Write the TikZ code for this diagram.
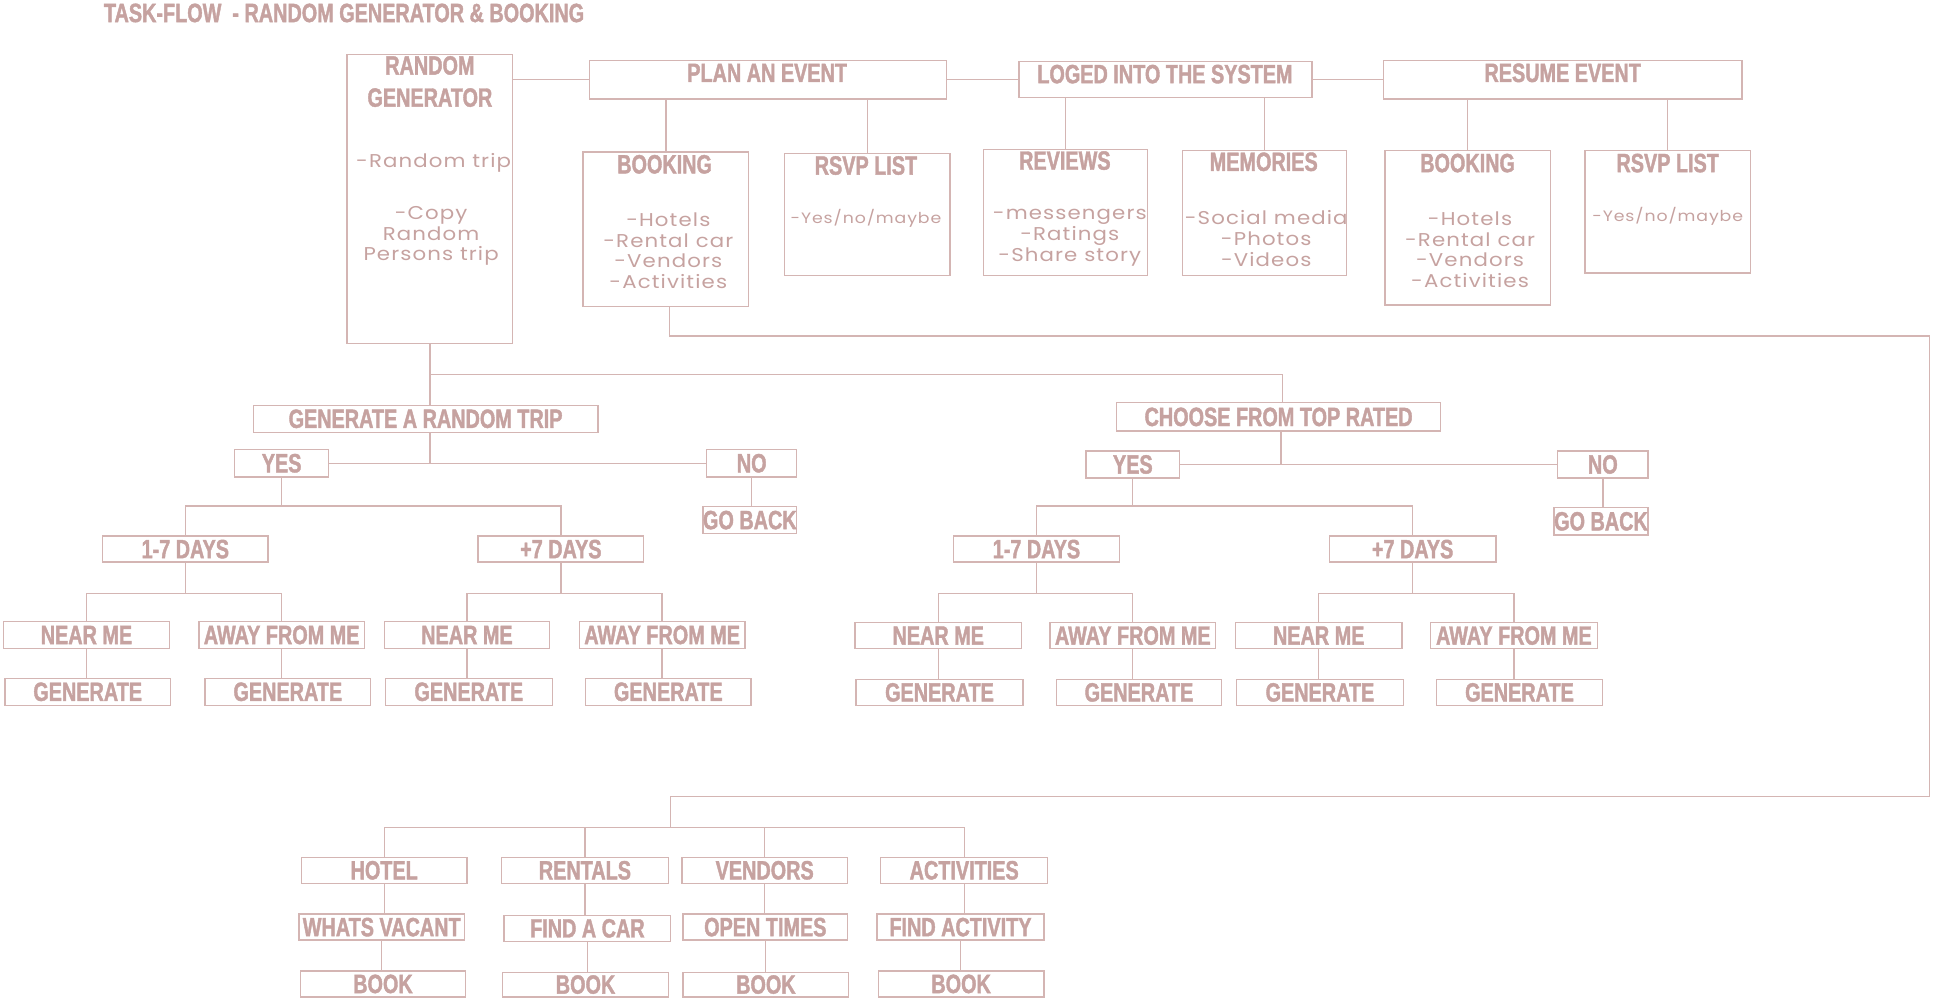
\documentclass[tikz,border=0pt]{standalone}
\usepackage{fontspec}
\newfontfamily\hdfont{Liberation Sans}[FakeStretch=0.75,FakeBold=1.5]
\newfontfamily\bdfont{Poppins}[FakeStretch=1.15,LetterSpace=6]
\definecolor{txtc}{RGB}{198,162,160}
\definecolor{linec}{RGB}{212,181,179}
\tikzset{
 box/.style={draw=linec,line width=1.1pt,inner sep=0pt,font=\hdfont\bfseries\fontsize{21.4}{26}\selectfont,text=txtc},
 hd/.style={inner sep=0pt,font=\hdfont\bfseries\fontsize{21.4}{26}\selectfont,text=txtc,align=center},
 bd/.style={inner sep=0pt,font=\bdfont\fontsize{15}{16.7}\selectfont,text=txtc,align=center},
 bdsmall/.style={inner sep=0pt,font=\bdfont\fontsize{12.2}{14}\selectfont,text=txtc,align=center},
 ln/.style={draw=linec,line width=1.1pt}
}
\newcommand\mybox[7][]{%
 \pgfmathsetmacro\bw{#5-#3}\pgfmathsetmacro\bh{#6-#4}%
 \pgfmathsetmacro\bcx{(#3+#5)/2}\pgfmathsetmacro\bcy{(#4+#6)/2}%
 \node[box,minimum width=\bw pt,minimum height=\bh pt,#1] (#2) at (\bcx,\bcy) {#7};}
\begin{document}
\begin{tikzpicture}[x=1pt,y=-1pt]
\useasboundingbox (0,0) rectangle (1568,814.4);
% title
\node[hd] (title) at (278.5,10.5) {TASK-FLOW\ \ - RANDOM GENERATOR \& BOOKING};
% top row
\mybox{rg}{281}{44}{415}{278}{}
\mybox{plan}{477}{49}{766}{80}{}
\mybox{loged}{825}{50}{1062}{79}{}
\mybox{resume}{1120}{49}{1410}{80}{}
\mybox{bookL}{472}{123}{606}{248}{}
\mybox{rsvpL}{635}{124}{769}{223}{}
\mybox{reviews}{796}{121}{929}{223}{}
\mybox{memories}{957}{122}{1090}{223}{}
\mybox{bookR}{1121}{122}{1255}{247}{}
\mybox{rsvpR}{1283}{122}{1417}{221}{}
% texts of top row
\node[hd] (rgT) at (348,66) {RANDOM\\GENERATOR};
\node[bd] (rgB1) at (351,131.5) {-Random trip};
\node[bd] (rgB2) at (349,191) {-Copy\\Random\\Persons trip};
\node[hd] (planT) at (621,59) {PLAN AN EVENT};
\node[hd] (logedT) at (943,60) {LOGED INTO THE SYSTEM};
\node[hd] (resumeT) at (1265,59) {RESUME EVENT};
\node[hd] (bookLT) at (538,133) {BOOKING};
\node[bd] (bookLB) at (541,203) {-Hotels\\-Rental car\\-Vendors\\-Activities};
\node[hd] (rsvpLT) at (701,134) {RSVP LIST};
\node[bdsmall] (rsvpLB) at (701,177) {-Yes/no/maybe};
\node[hd] (reviewsT) at (862,130) {REVIEWS};
\node[bd] (reviewsB) at (866,192.5) {-messengers\\-Ratings\\-Share story};
\node[hd] (memT) at (1023,131) {MEMORIES};
\node[bd] (memB) at (1025,193) {-Social media\\-Photos\\-Videos};
\node[hd] (bookRT) at (1188,132) {BOOKING};
\node[bd] (bookRB) at (1190,202) {-Hotels\\-Rental car\\-Vendors\\-Activities};
\node[hd] (rsvpRT) at (1350,132) {RSVP LIST};
\node[bdsmall] (rsvpRB) at (1350,175) {-Yes/no/maybe};
% top connectors
\draw[ln] (rg.east |- plan.west) -- (plan.west);
\draw[ln] (plan.east) -- (loged.west);
\draw[ln] (loged.east) -- (resume.west);
\draw[ln] (bookL.north) -- (bookL.north |- plan.south);
\draw[ln] (rsvpL.north) -- (rsvpL.north |- plan.south);
\draw[ln] (reviews.north) -- (reviews.north |- loged.south);
\draw[ln] (memories.north) -- (memories.north |- loged.south);
\draw[ln] (bookR.north) -- (bookR.north |- resume.south);
\draw[ln] (rsvpR.north) -- (rsvpR.north |- resume.south);
% left tree
\mybox{gart}{205}{328}{484}{350}{GENERATE A RANDOM TRIP}
\mybox{yesL}{190}{364}{266}{386}{YES}
\mybox{noL}{572}{364}{645}{386}{NO}
\mybox{gbL}{569}{410}{645}{432}{GO BACK}
\mybox{d17L}{83}{434}{217}{455}{1-7 DAYS}
\mybox{d7pL}{387}{434}{521}{455}{+7 DAYS}
\mybox{n1}{3}{503}{137}{525}{NEAR ME}
\mybox{a1}{161}{503}{295}{525}{AWAY FROM ME}
\mybox{n2}{311}{503}{445}{525}{NEAR ME}
\mybox{a2}{469}{503}{603}{525}{AWAY FROM ME}
\mybox{g1}{4}{549}{138}{571}{GENERATE}
\mybox{g2}{166}{549}{300}{571}{GENERATE}
\mybox{g3}{312}{549}{447}{571}{GENERATE}
\mybox{g4}{474}{549}{608}{571}{GENERATE}
% right tree
\mybox{choose}{904}{326}{1166}{349}{CHOOSE FROM TOP RATED}
\mybox{yesR}{879}{365}{955}{387}{YES}
\mybox{noR}{1261}{365}{1334}{387}{NO}
\mybox{gbR}{1258}{411}{1334}{433}{GO BACK}
\mybox{d17R}{772}{434}{906}{455}{1-7 DAYS}
\mybox{d7pR}{1076}{434}{1211}{455}{+7 DAYS}
\mybox{n3}{692}{504}{827}{525}{NEAR ME}
\mybox{a3}{850}{504}{984}{525}{AWAY FROM ME}
\mybox{n4}{1000}{504}{1135}{525}{NEAR ME}
\mybox{a4}{1158}{504}{1293}{525}{AWAY FROM ME}
\mybox{g5}{693}{550}{828}{571}{GENERATE}
\mybox{g6}{855}{550}{989}{571}{GENERATE}
\mybox{g7}{1001}{550}{1136}{571}{GENERATE}
\mybox{g8}{1163}{550}{1297}{571}{GENERATE}
% bottom
\mybox{hotel}{244}{694}{378}{715}{HOTEL}
\mybox{wv}{242}{740}{376}{761}{WHATS VACANT}
\mybox{bk1}{243}{786}{377}{807}{BOOK}
\mybox{rent}{406}{694}{541}{715}{RENTALS}
\mybox{fac}{408}{741}{543}{762}{FIND A CAR}
\mybox{bk2}{407}{787}{541}{807}{BOOK}
\mybox{vend}{552}{694}{686}{715}{VENDORS}
\mybox{ot}{553}{740}{686}{761}{OPEN TIMES}
\mybox{bk3}{553}{787}{687}{807}{BOOK}
\mybox{act}{713}{694}{848}{715}{ACTIVITIES}
\mybox{fa}{710}{740}{845}{761}{FIND ACTIVITY}
\mybox{bk4}{711}{786}{845}{807}{BOOK}
% tree connectors (left)
\draw[ln] (rg.south) -- (rg.south |- gart.north);
\draw[ln] (rg.south |- 0,303) -| ([xshift=3pt]choose.north);
\draw[ln] (yesL.east) -- (noL.west);
\draw[ln] ([xshift=3.5pt]gart.south) -- ([xshift=3.5pt]gart.south |- yesL.east);
\draw[ln] (noL.south) -- (noL.south |- gbL.north);
\draw[ln] (yesL.south) -- ++(0,23) coordinate (ybL);
\draw[ln] (d17L.north) |- (ybL) -| (d7pL.north);
\draw[ln] (d17L.south) -- ++(0,25) coordinate (b1);
\draw[ln] (n1.north) |- (b1) -| (a1.north);
\draw[ln] (d7pL.south) -- ++(0,25) coordinate (b2);
\draw[ln] (n2.north) |- (b2) -| (a2.north);
\draw[ln] (n1.south) -- (n1.south |- g1.north);
\draw[ln] (a1.south) -- (a1.south |- g2.north);
\draw[ln] (n2.south) -- (n2.south |- g3.north);
\draw[ln] (a2.south) -- (a2.south |- g4.north);
% tree connectors (right)
\draw[ln] (yesR.east) -- (noR.west);
\draw[ln] ([xshift=2pt]choose.south) -- ([xshift=2pt]choose.south |- yesR.east);
\draw[ln] (noR.south) -- (noR.south |- gbR.north);
\draw[ln] (yesR.south) -- ++(0,22) coordinate (ybR);
\draw[ln] (d17R.north) |- (ybR) -| (d7pR.north);
\draw[ln] (d17R.south) -- ++(0,25) coordinate (b3);
\draw[ln] (n3.north) |- (b3) -| (a3.north);
\draw[ln] (d7pR.south) -- ++(0,25) coordinate (b4);
\draw[ln] (n4.north) |- (b4) -| (a4.north);
\draw[ln] (n3.south) -- (n3.south |- g5.north);
\draw[ln] (a3.south) -- (a3.south |- g6.north);
\draw[ln] (n4.south) -- (n4.south |- g7.north);
\draw[ln] (a4.south) -- (a4.south |- g8.north);
% long booking connector
\coordinate (cR1) at (1562,272);
\coordinate (cR2) at (1562,645);
\coordinate (busL) at (543,670);
\draw[ln] ([xshift=3pt]bookL.south) |- (cR1) -- (cR2) -| (busL);
\draw[ln] (hotel.north) |- (busL) -| (act.north);
\draw[ln] (rent.north) -- (rent.north |- busL);
\draw[ln] (vend.north) -- (vend.north |- busL);
% bottom verticals
\draw[ln] (hotel.south) -- (hotel.south |- wv.north);
\draw[ln] (wv.south) -- (wv.south |- bk1.north);
\draw[ln] (rent.south) -- (rent.south |- fac.north);
\draw[ln] (fac.south) -- (fac.south |- bk2.north);
\draw[ln] (vend.south) -- (vend.south |- ot.north);
\draw[ln] (ot.south) -- (ot.south |- bk3.north);
\draw[ln] (act.south) -- (act.south |- fa.north);
\draw[ln] (fa.south) -- (fa.south |- bk4.north);
\end{tikzpicture}
\end{document}
